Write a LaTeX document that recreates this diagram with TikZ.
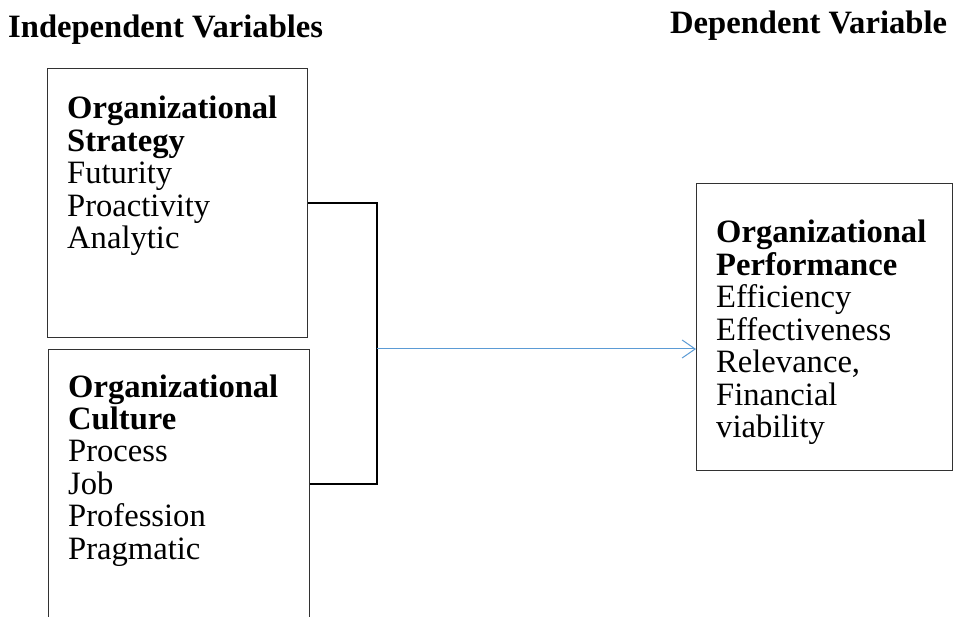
\documentclass[tikz,border=0pt]{standalone}
\usepackage{fontspec}
\setmainfont{Liberation Serif}
\usetikzlibrary{arrows.meta}
\definecolor{linkblue}{RGB}{91,155,213}
\definecolor{framegray}{RGB}{50,50,50}
\begin{document}
\begin{tikzpicture}[x=1pt,y=-1pt,
  varbox/.style={draw=framegray, line width=1pt, minimum width=#1, inner sep=0pt, anchor=north west},
  boxtext/.style={anchor=base west, inner sep=0pt, font=\fontsize{32.6}{32.5}\selectfont},
  heading/.style={anchor=base west, inner sep=0pt, font=\fontsize{32.6}{32.5}\selectfont\bfseries},
  bracket/.style={draw=black, line width=1.1pt},
  link/.style={draw=linkblue, line width=1pt, -{Straight Barb[length=13pt,width=18pt,line width=1pt]}}]
\clip (0,0) rectangle (953,617);
\fill[white] (0,0) rectangle (953,617);

% column headings
\node[heading] (indep) at (8,38) {Independent Variables};
\node[heading] (dep) at (670,34) {Dependent Variable};

% frames
\node[varbox=260pt, minimum height=269pt] (strat) at (47,68) {};
\node[varbox=261pt, minimum height=269pt] (cult) at (48,349) {};
\node[varbox=256pt, minimum height=287pt] (perf) at (696,183) {};

% frame contents
\node[boxtext] (strattext) at (67,119) {\parbox[t]{240pt}{\raggedright
  \textbf{Organizational}\\\textbf{Strategy}\\Futurity\\Proactivity\\Analytic}};
\node[boxtext] (culttext) at (68,397) {\parbox[t]{240pt}{\raggedright
  \textbf{Organizational}\\\textbf{Culture}\\Process\\Job\\Profession\\Pragmatic}};
\node[boxtext] (perftext) at (716,243) {\parbox[t]{236pt}{\raggedright
  \textbf{Organizational}\\\textbf{Performance}\\Efficiency\\Effectiveness\\Relevance,\\Financial\\viability}};

% joining bracket and arrow
\coordinate (join) at (377,349);
\draw[bracket] (strat.east) -| (join |- strat.east) |- (cult.east);
\draw[link] (join) -- (join -| perf.west);
\end{tikzpicture}
\end{document}
